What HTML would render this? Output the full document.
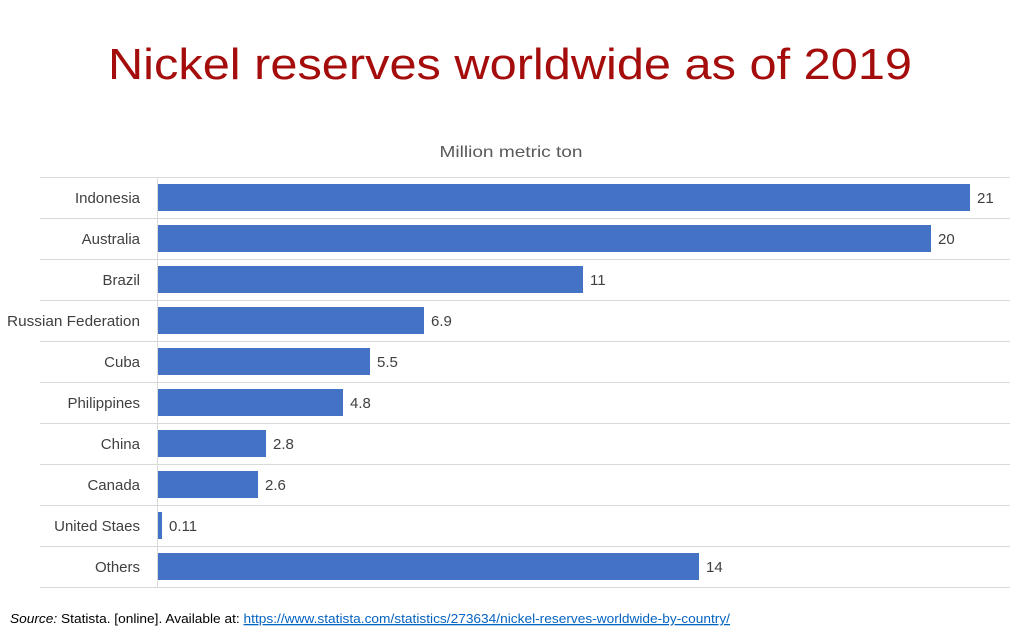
<!DOCTYPE html>
<html><head><meta charset="utf-8"><style>body{margin:0;background:#fff}svg{display:block}</style></head><body>
<svg width="1023" height="634" xmlns="http://www.w3.org/2000/svg" font-family="Liberation Sans, sans-serif">
<text x="510" y="79" text-anchor="middle" font-size="44" fill="#a50d0d" textLength="804" lengthAdjust="spacingAndGlyphs">Nickel reserves worldwide as of 2019</text>
<text x="511" y="157" text-anchor="middle" font-size="16" fill="#595959" textLength="143" lengthAdjust="spacingAndGlyphs">Million metric ton</text>
<g stroke="#d9d9d9" stroke-width="1">
<line x1="40" x2="1010" y1="177.5" y2="177.5"/><line x1="40" x2="1010" y1="218.5" y2="218.5"/><line x1="40" x2="1010" y1="259.5" y2="259.5"/><line x1="40" x2="1010" y1="300.5" y2="300.5"/><line x1="40" x2="1010" y1="341.5" y2="341.5"/><line x1="40" x2="1010" y1="382.5" y2="382.5"/><line x1="40" x2="1010" y1="423.5" y2="423.5"/><line x1="40" x2="1010" y1="464.5" y2="464.5"/><line x1="40" x2="1010" y1="505.5" y2="505.5"/><line x1="40" x2="1010" y1="546.5" y2="546.5"/><line x1="40" x2="1010" y1="587.5" y2="587.5"/>
<line x1="157.5" x2="157.5" y1="177" y2="588"/>
</g>
<g fill="#4472c4">
<rect x="158" y="184" width="812" height="27"/>
<rect x="158" y="225" width="773" height="27"/>
<rect x="158" y="266" width="425" height="27"/>
<rect x="158" y="307" width="266" height="27"/>
<rect x="158" y="348" width="212" height="27"/>
<rect x="158" y="389" width="185" height="27"/>
<rect x="158" y="430" width="108" height="27"/>
<rect x="158" y="471" width="100" height="27"/>
<rect x="158" y="512" width="4" height="27"/>
<rect x="158" y="553" width="541" height="27"/>
</g>
<g font-size="15" fill="#404040" text-anchor="end">
<text x="140" y="203">Indonesia</text><text x="140" y="244">Australia</text><text x="140" y="285">Brazil</text>
<text x="140" y="326" textLength="133" lengthAdjust="spacingAndGlyphs">Russian Federation</text><text x="140" y="367">Cuba</text><text x="140" y="408">Philippines</text>
<text x="140" y="449">China</text><text x="140" y="490">Canada</text><text x="140" y="531">United Staes</text><text x="140" y="572">Others</text>
</g>
<g font-size="15" fill="#404040">
<text x="977" y="203">21</text><text x="938" y="244">20</text><text x="590" y="285">11</text><text x="431" y="326">6.9</text>
<text x="377" y="367">5.5</text><text x="350" y="408">4.8</text><text x="273" y="449">2.8</text><text x="265" y="490">2.6</text>
<text x="169" y="531">0.11</text><text x="706" y="572">14</text>
</g>
<text x="10" y="623" font-size="13" fill="#000" textLength="720" lengthAdjust="spacingAndGlyphs"><tspan font-style="italic">Source:</tspan>  Statista. [online]. Available at: <tspan fill="#0563c1" text-decoration="underline">https://www.statista.com/statistics/273634/nickel-reserves-worldwide-by-country/</tspan></text>
</svg>
</body></html>
